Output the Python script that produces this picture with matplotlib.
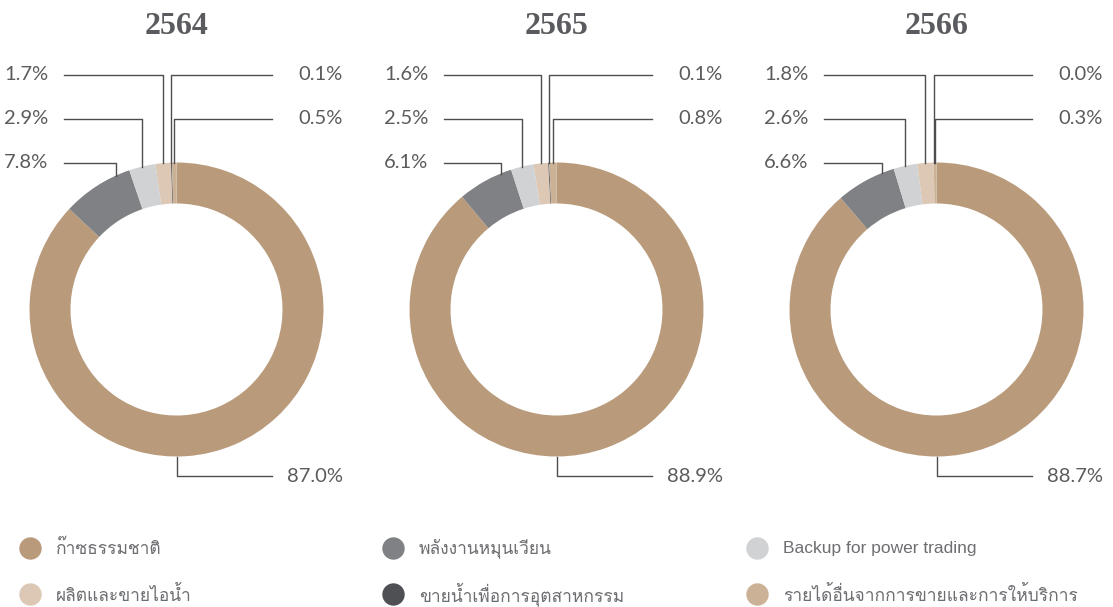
import matplotlib
matplotlib.use('Agg')
import matplotlib.pyplot as plt
import matplotlib.font_manager as fm
import numpy as np
from matplotlib.ft2font import FT2Font

YEARS = ['2564', '2565', '2566']
CATEGORIES = ['ก๊าซธรรมชาติ', 'พลังงานหมุนเวียน', 'Backup for power trading',
              'ผลิตและขายไอน้ำ', 'ขายน้ำเพื่อการอุตสาหกรรม',
              'รายได้อื่นจากการขายและการให้บริการ']
GAS = [87.0, 88.9, 88.7]
RENEWABLE = [7.8, 6.1, 6.6]
BACKUP = [2.9, 2.5, 2.6]
STEAM = [1.7, 1.6, 1.8]
WATER = [0.1, 0.1, 0.0]
OTHER = [0.5, 0.8, 0.3]
COLORS = ['#b99b7c', '#808184', '#d1d2d4', '#dcc8b5', '#4f5054', '#cbb296']

# where each label sits: side, row, position along the wedge (0 = end nearest the top)
LABEL_SIDE = ['bottom', 'left', 'left', 'left', 'right', 'right']
LABEL_ROW = [0, 2, 1, 0, 0, 1]
LABEL_FRAC = [None, 0.2, 0.5, 0.5, 0.5, 0.5]

W, H = 1113, 607
TEXT_COLOR = '#5a5b5d'


def find_thai_font() -> str:
    for f in fm.fontManager.ttflist:
        try:
            if 0x0E01 in FT2Font(f.fname).get_charmap():
                return f.name
        except Exception:
            pass
    return 'DejaVu Sans'


thai_font = find_thai_font()

fig = plt.figure(figsize=(W / 100, H / 100), dpi=100)
ax = fig.add_axes([0, 0, 1, 1])
ax.set_xlim(0, W)
ax.set_ylim(0, H)
ax.axis('off')

series = list(zip(GAS, RENEWABLE, BACKUP, STEAM, WATER, OTHER))
R, ring = 147, 41
centers_x = [176.5, 556.5, 936.5]
cy = H - 309.5
row_y = [H - 75, H - 119, H - 163]
bottom_y = H - 476

for year, vals, cx in zip(YEARS, series, centers_x):
    wedges, _ = ax.pie(vals, colors=COLORS, startangle=90, counterclock=False,
                       radius=R, center=(cx, cy),
                       wedgeprops=dict(width=ring, linewidth=0))
    ax.text(cx, H - 27, year, ha='center', va='center', fontsize=23,
            fontweight='bold', family='Liberation Serif', color='#5a5b5e')

    for w, v, side, row, frac in zip(wedges, vals, LABEL_SIDE, LABEL_ROW, LABEL_FRAC):
        if side == 'bottom':
            th = np.deg2rad(-90)
        else:
            th = np.deg2rad(w.theta1 + frac * (w.theta2 - w.theta1))
        px, py = cx + R * np.cos(th), cy + R * np.sin(th)
        if side == 'left':
            ty = row_y[row]
            ax.plot([px, px, cx - 112.5], [py, ty, ty], color='#4d4d4f', lw=1.0)
            ax.text(cx - 128, ty, f'{v:.1f}%', ha='right', va='center',
                    fontsize=14.5, family='Lato', color=TEXT_COLOR)
        else:
            ty = row_y[row] if side == 'right' else bottom_y
            ax.plot([px, px, cx + 95], [py, ty, ty], color='#4d4d4f', lw=1.0)
            ax.text(cx + 166, ty, f'{v:.1f}%', ha='right', va='center',
                    fontsize=14.5, family='Lato', color=TEXT_COLOR)

# legend
leg_x = [30, 393, 757]
leg_y = [H - 548, H - 594]
for i, (name, col) in enumerate(zip(CATEGORIES, COLORS)):
    lx, ly = leg_x[i % 3], leg_y[i // 3]
    ax.scatter([lx], [ly], s=260, color=col, linewidths=0)
    ax.text(lx + 26, ly, name, ha='left', va='center', fontsize=12.5,
            family=['Liberation Sans', thai_font], color='#6d6e71')

ax.set_xlim(0, W)
ax.set_ylim(0, H)
fig.savefig('out.png', dpi=100)
